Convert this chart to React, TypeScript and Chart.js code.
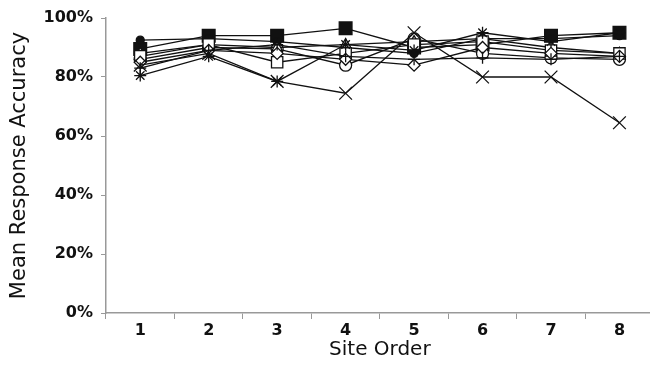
import React, { useEffect, useRef } from "react";
import { Chart, registerables } from "chart.js";

Chart.register(...registerables);

const categories = ["1", "2", "3", "4", "5", "6", "7", "8"];
const yTicks = [0, 20, 40, 60, 80, 100];

const filledSquare = [89.5, 94, 94, 96.5, 90, 91, 94, 95];
const openCircle = [86, 90, 89.5, 84, 93, 88, 86.5, 86];
const openSquare = [87, 91, 85, 88, 91, 92, 89, 88];
const plusSeries = [83, 89, 91, 87, 86, 86.5, 86, 87];
const crossSeries = [84, 88, 78.5, 74.5, 95, 80, 80, 64.5];
const starSeries = [80.5, 87, 78.5, 91, 89, 95, 92, 95];
const diamondSeries = [85, 89, 88, 86, 84, 90, 88, 87];
const triangleSeries = [88, 91, 90, 91, 92, 93, 90, 88];
const filledCircle = [92.5, 93, 92, 90, 88, 93, 93, 94];

const CANVAS_W = 664;

export default function App() {
  const ref = useRef<HTMLCanvasElement | null>(null);
  useEffect(() => {
    document.body.style.margin = "0";
    const ctx = ref.current!.getContext("2d")!;
    const mk = (data: number[], style: any, fill: string, r: number) => ({
      data,
      borderColor: "#111",
      borderWidth: 1.3,
      pointStyle: style,
      pointRadius: r,
      pointBackgroundColor: fill,
      pointBorderColor: "#111",
      pointBorderWidth: 1.3,
      tension: 0,
      fill: false,
    });
    const chart = new Chart(ctx, {
      type: "line",
      data: {
        labels: categories,
        datasets: [
          mk(crossSeries, "crossRot", "#fff", 9),
          mk(starSeries, "star", "#fff", 6),
          mk(plusSeries, "cross", "#fff", 6),
          mk(diamondSeries, "rectRot", "#fff", 6),
          mk(openSquare, "rect", "#fff", 8),
          mk(triangleSeries, "triangle", "#fff", 6),
          mk(openCircle, "circle", "#fff", 6),
          mk(filledCircle, "circle", "#111", 4),
          mk(filledSquare, "rect", "#111", 9),
        ],
      },
      options: {
        responsive: false,
        animation: false,
        layout: { padding: { top: 18, right: 0, left: 0, bottom: 0 } },
        plugins: { legend: { display: false }, tooltip: { enabled: false } },
        scales: {
          x: {
            offset: true,
            grid: {
              offset: true,
              drawOnChartArea: false,
              tickLength: 6,
              color: "#999",
            },
            border: { color: "#999", width: 1.5 },
            ticks: {
              color: "#111",
              padding: 2,
              font: { family: "DejaVu Sans", size: 16, weight: "bold" },
            },
            title: {
              display: true,
              text: "Site Order",
              color: "#111",
              padding: { top: 0, bottom: 6 },
              font: { family: "DejaVu Sans", size: 20 },
            },
            afterFit: (s: any) => {
              s.height = 55;
            },
          },
          y: {
            min: 0,
            max: 100,
            afterBuildTicks: (s: any) => {
              s.ticks = yTicks.map((v) => ({ value: v }));
            },
            grid: {
              drawOnChartArea: false,
              tickLength: 5,
              color: "#999",
            },
            border: { color: "#999", width: 1.5 },
            ticks: {
              color: "#111",
              padding: 8,
              callback: (v: any) => v + "%",
              font: { family: "DejaVu Sans", size: 16, weight: "bold" },
            },
            title: {
              display: true,
              text: "Mean Response Accuracy",
              color: "#111",
              padding: { top: 7, bottom: 7 },
              font: { family: "DejaVu Sans", size: 21 },
            },
            afterFit: (s: any) => {
              s.width = 106;
            },
          },
        },
      },
    });
    return () => chart.destroy();
  }, []);
  return (
    <div
      style={{
        position: "fixed",
        left: 0,
        top: 0,
        width: 650,
        height: 368,
        overflow: "hidden",
        background: "#fff",
      }}
    >
      <canvas ref={ref} width={CANVAS_W} height={368} style={{ display: "block" }} />
    </div>
  );
}
